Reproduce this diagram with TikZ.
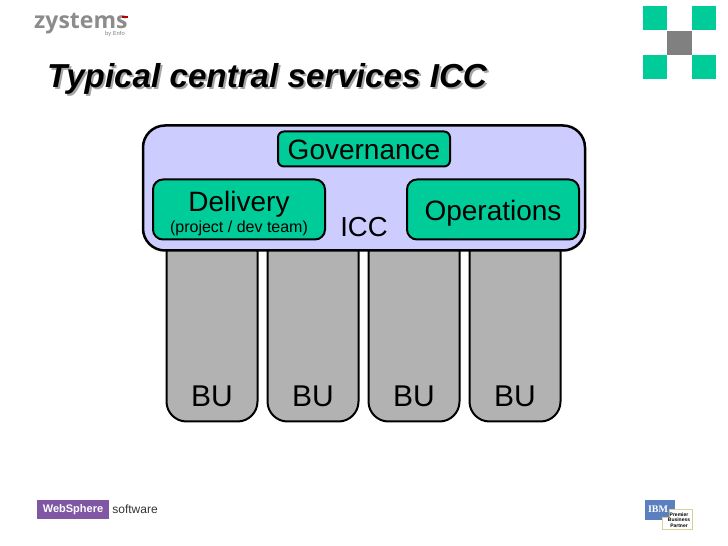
\documentclass[tikz,border=0pt]{standalone}
\usepackage{fontspec}
\setmainfont{Liberation Sans}
\newfontfamily\logofont{Open Sans}
\newfontfamily\ibmfont{Liberation Serif}
\usetikzlibrary{positioning}
\definecolor{teamgreen}{HTML}{00CC99}
\definecolor{iccblue}{HTML}{CCCCFF}
\definecolor{bugray}{HTML}{B2B2B2}
\definecolor{wspurple}{HTML}{7F57A5}
\definecolor{ibmblue}{HTML}{5B7FBF}
\definecolor{partnerbeige}{HTML}{D8CF9A}
\begin{document}
\begin{tikzpicture}[
        x=1pt, y=1pt,
        node distance=9pt,
        unit/.style={draw, line width=2pt, rectangle, rounded corners=20pt, fill=bugray, minimum width=91pt, minimum height=190pt, outer sep=0pt},
        unitname/.style={font=\fontsize{30}{30}\selectfont, inner sep=0pt},
        icc/.style={draw, line width=2.5pt, rectangle, rounded corners=22pt, fill=iccblue, minimum width=442pt, minimum height=125pt, outer sep=0pt},
        team/.style={draw, line width=2pt, rectangle, rounded corners=10pt, fill=teamgreen, minimum width=172pt, minimum height=60pt, align=center, outer sep=0pt, font=\fontsize{28}{30}\selectfont},
        square/.style={rectangle, fill=teamgreen, minimum size=24.5pt, inner sep=0pt, outer sep=0pt},
        titletext/.style={font=\fontsize{33.2}{34}\selectfont\bfseries\itshape, inner sep=0pt, anchor=base west}
    ]
    \useasboundingbox (0,0) rectangle (728,546);

    % business units, tops hidden by the icc box
    \node[unit] (BU1) at (212,219.5) {};
    \node[unit, right=10pt of BU1] (BU2) {};
    \node[unit, right=10pt of BU2] (BU3) {};
    \node[unit, right=10pt of BU3] (BU4) {};
    \node[unitname, above=15pt of BU1.south] (Name1) {BU};
    \node[unitname, above=15pt of BU2.south] (Name2) {BU};
    \node[unitname, above=15pt of BU3.south] (Name3) {BU};
    \node[unitname, above=15pt of BU4.south] (Name4) {BU};

    \node[icc] (ICC) at (364,358) {};
    \node[team, rounded corners=6pt, minimum height=35pt, text height=21pt, text depth=0pt] (Governance) at (364,397) {Governance};
    \node[team, below left=13pt and -47pt of Governance] (Delivery) {\rule{0pt}{28pt}Delivery\\[-9pt]{\fontsize{16}{18}\selectfont (project / dev team)}};
    \node[team, below right=13pt and -43pt of Governance, text height=22pt, text depth=0pt] (Operations) {Operations};
    \node[font=\fontsize{27.5}{30}\selectfont, inner sep=0pt] (ICCname) at (364,318.5) {ICC};

    % title with its shadow
    \node[titletext, text=black!35] (TitleShadow) at (49,456) {Typical central services ICC};
    \node[titletext] (Title) at (47,458) {Typical central services ICC};

    % logos
    \node[font=\logofont\fontsize{23}{24}\selectfont\bfseries, text=black!45, inner sep=0pt, anchor=base west] (Zystems) at (34,517) {zystems};
    \node[font=\fontsize{5.8}{7}\selectfont, text=black!50, inner sep=0pt, anchor=base east] (Enfo) at (125,510) {by Enfo};
    \node[square, minimum size=1pt, minimum width=6pt, minimum height=1.5pt, fill=red!70!black] (Dash) at (125,529) {};

    \node[square] (Square1) at (655,528) {};
    \node[square] (Square2) at (704,528) {};
    \node[square, fill=black!50] (Square3) at (679.5,503) {};
    \node[square] (Square4) at (655,479) {};
    \node[square] (Square5) at (704,479) {};

    \node[rectangle, fill=wspurple, text=white, minimum width=72pt, minimum height=19pt, inner sep=0pt, font=\fontsize{11}{13}\selectfont\bfseries] (WebSphere) at (73,36.5) {WebSphere};
    \node[right=3pt of WebSphere, inner sep=0pt, text=black!80, font=\fontsize{12}{13}\selectfont] (Software) {software};

    \node[rectangle, fill=ibmblue, minimum width=30pt, minimum height=20pt, inner sep=0pt] (IBM) at (660,36) {};
    \node[inner sep=0pt, text=white, font=\ibmfont\fontsize{10}{10}\selectfont\bfseries] (IBMname) at (658,37) {IBM};
    \filldraw[draw=partnerbeige, line width=1pt, fill=white] (669,36) -- (692,36) -- (692,16) -- (662,16) -- (662,28) -- (669,28) -- cycle;
    \node[inner sep=0pt, align=center, font=\fontsize{5}{5.5}\selectfont\bfseries] (Partner) at (679,26) {Premier\\Business\\Partner};

    \end{tikzpicture}
\end{document}
